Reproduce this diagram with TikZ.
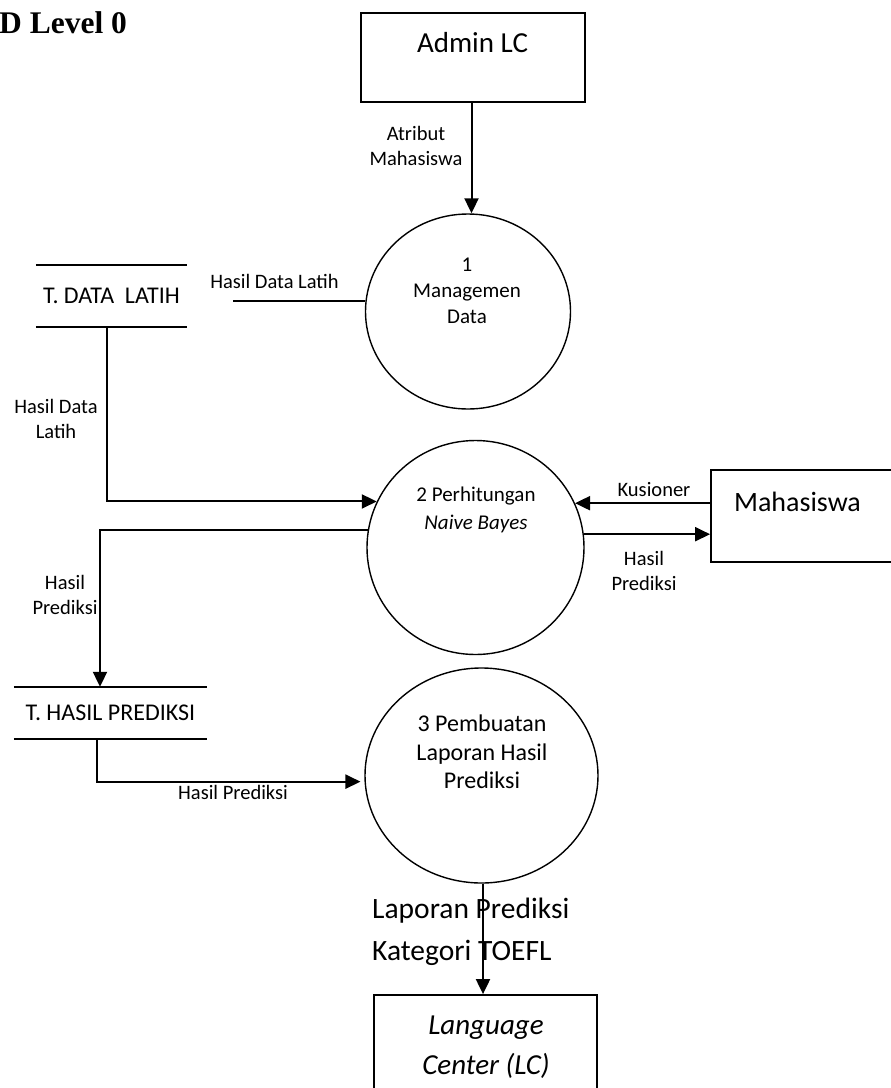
\documentclass[tikz,border=0pt]{standalone}
\usepackage{fontspec}
\setmainfont{Carlito}
\newfontfamily\titlefont{Liberation Serif}
\usetikzlibrary{shapes.geometric,arrows.meta}

\begin{document}
\begin{tikzpicture}[x=1pt,y=-1pt,
  entity/.style={draw,line width=1.8pt,rectangle,inner sep=0pt},
  process/.style={draw,line width=1.4pt,ellipse,inner sep=0pt},
  storebox/.style={inner sep=0pt,font=\fontsize{24}{28}\selectfont},
  storeline/.style={line width=1.8pt},
  flow/.style={line width=2pt,-{Triangle[length=15pt,width=14pt]}},
  plainflow/.style={line width=2pt},
  lbl/.style={font=\fontsize{20.5}{25}\selectfont,align=center,inner sep=0pt},
  ptext/.style={align=center,inner sep=0pt},
  etext/.style={font=\fontsize{29}{40}\selectfont,align=center,inner sep=0pt}
]
\clip (0,0) rectangle (891,1088);

% title
\node[anchor=base west,inner sep=0pt,font=\titlefont\bfseries\fontsize{31.5}{36}\selectfont] (title) at (-1,33) {D Level 0};

% external entities
\node[entity,minimum width=224,minimum height=89] (admin) at (473,57.5) {};
\node[etext] (admintxt) at (472.5,43) {Admin LC};
\node[entity,minimum width=189,minimum height=92] (mhs) at (805.5,516) {};
\node[etext,font=\fontsize{28}{34}\selectfont] (mhstxt) at (797.5,502) {Mahasiswa};
\node[entity,minimum width=223,minimum height=110] (lc) at (485.5,1050) {};
\node[etext,font=\itshape\fontsize{29}{40}\selectfont] (lctxt) at (486,1047) {Language\\Center (LC)};

% processes
\node[process,minimum width=205,minimum height=195] (p1) at (468,311.5) {};
\node[ptext,font=\fontsize{21}{26}\selectfont] (p1txt) at (467,291) {1\\Managemen\\Data};
\node[process,minimum width=217,minimum height=214] (p2) at (475.5,547.5) {};
\node[ptext,font=\fontsize{21}{28}\selectfont] (p2txt) at (476,510) {2 Perhitungan\\\textit{Naive Bayes}};
\node[process,minimum width=233,minimum height=215] (p3) at (481.5,775.5) {};
\node[ptext,font=\fontsize{24}{28.5}\selectfont] (p3txt) at (482,752) {3 Pembuatan\\Laporan Hasil\\Prediksi};

% data stores
\node[storebox,minimum width=151,minimum height=62] (dl) at (111.5,296) {T. DATA\ \ LATIH};
\draw[storeline] (dl.north west) -- (dl.north east) (dl.south west) -- (dl.south east);
\node[storebox,minimum width=193,minimum height=52] (hp) at (110.5,713) {T. HASIL PREDIKSI};
\draw[storeline] (hp.north west) -- (hp.north east) (hp.south west) -- (hp.south east);

% data flows
\draw[flow] ([xshift=-1.5pt]admin.south) -- ([xshift=-1.5pt]admin.south |- p1.north);
\node[lbl] (l1) at (416,146) {Atribut\\Mahasiswa};

\coordinate (hdl) at (233,301);
\draw[plainflow] (hdl) -- (p1.west |- hdl);
\node[lbl] (l2) at (274.5,281) {Hasil Data Latih};

\draw[flow] ([xshift=-4.5pt]dl.south) |- (p2.155);
\node[lbl] (l3) at (56,419) {Hasil Data\\Latih};

\draw[flow] (p2.24 -| mhs.west) -- (p2.24);
\node[lbl] (l4) at (654,490) {Kusioner};
\draw[flow] (p2.7) -- (p2.7 -| mhs.west);
\node[lbl] (l5) at (644,571) {Hasil\\Prediksi};

\draw[flow] (p2.171) -| ([xshift=-10.5pt]hp.north);
\node[lbl] (l6) at (65,594.5) {Hasil\\Prediksi};

\draw[flow] ([xshift=-13.5pt]hp.south) |- ([xshift=-4pt]p3.183);
\node[lbl] (l7) at (233,792) {Hasil Prediksi};

\draw[flow] ([xshift=1.5pt]p3.south) -- ([xshift=1.5pt]p3.south |- lc.north);
\node[anchor=west,align=left,inner sep=0pt,font=\fontsize{29.5}{42}\selectfont] (l8) at (372,932) {Laporan Prediksi\\Kategori TOEFL};
\end{tikzpicture}
\end{document}
